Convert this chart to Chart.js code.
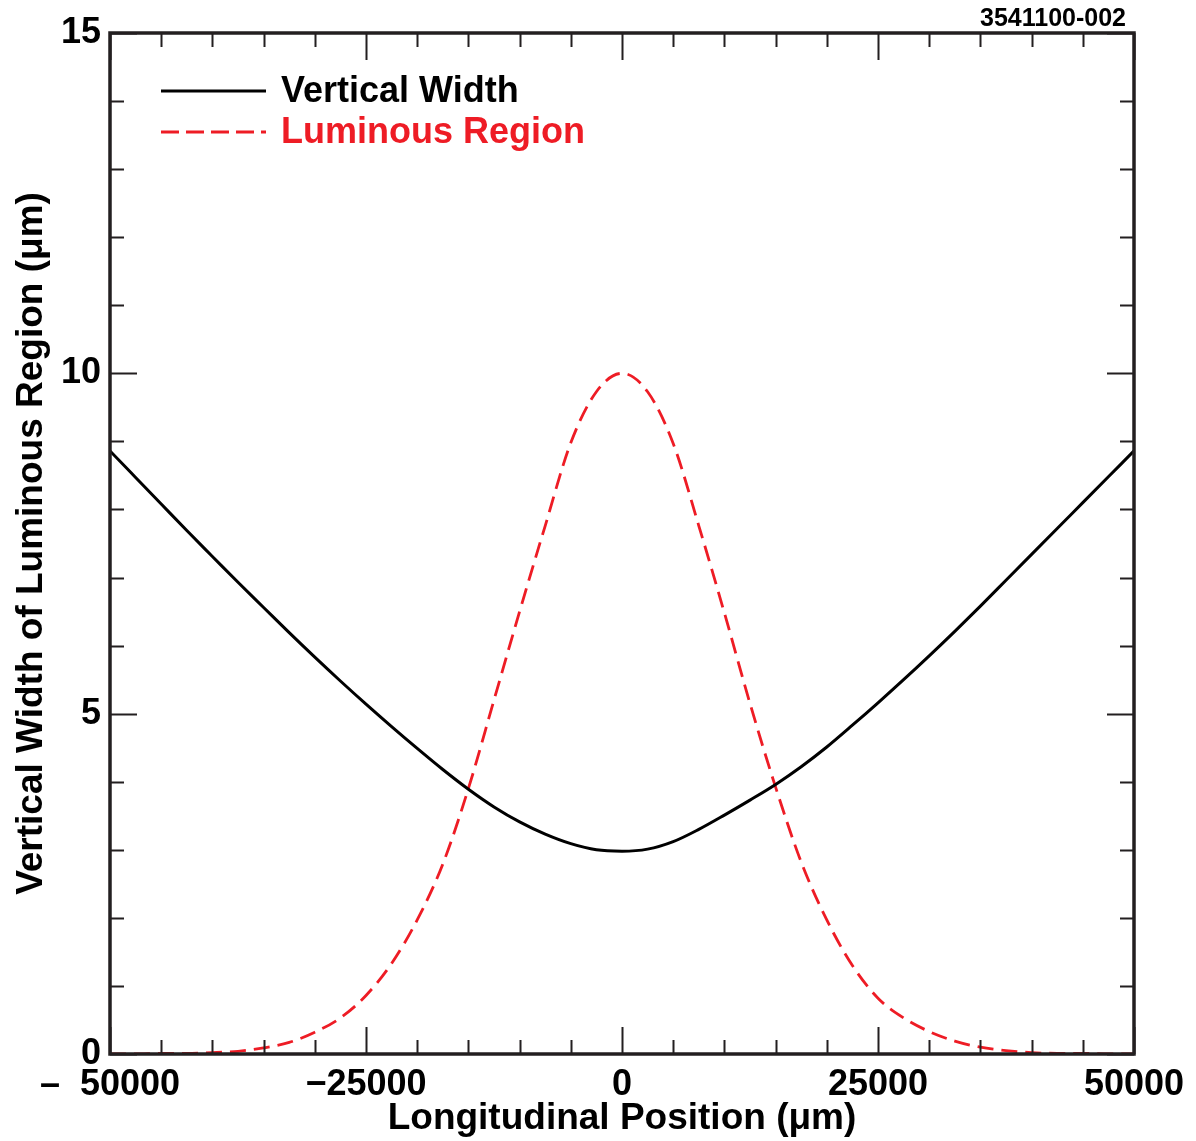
<!DOCTYPE html>
<html>
<head>
<meta charset="utf-8">
<script src="https://cdn.jsdelivr.net/npm/chart.js@4.4.1/dist/chart.umd.min.js"></script>
<style>
  html, body { margin: 0; padding: 0; background: #fff; }
  #wrap { width: 1196px; height: 1141px; }
</style>
</head>
<body>
<div id="wrap"><canvas id="grafico" width="1196" height="1141"></canvas></div>
<script>
// posiciones longitudinales (um)
const posiciones = [
  -50000, -47500, -45000, -42500, -40000, -37500, -35000, -32500, -30000, -27500,
  -25000, -22500, -20000, -17500, -15000, -12500, -10000, -7500, -5000, -2500,
  0, 2500, 5000, 7500, 10000, 12500, 15000, 17500, 20000, 22500,
  25000, 27500, 30000, 32500, 35000, 37500, 40000, 42500, 45000, 47500, 50000
];
const anchoVertical = [
  8.86, 8.47, 8.08, 7.69, 7.31, 6.93, 6.56, 6.19, 5.83, 5.48,
  5.14, 4.81, 4.49, 4.18, 3.89, 3.63, 3.41, 3.23, 3.09, 3.00,
  2.98, 3.01, 3.12, 3.30, 3.51, 3.73, 3.96, 4.22, 4.51, 4.83,
  5.16, 5.50, 5.85, 6.21, 6.58, 6.96, 7.34, 7.72, 8.10, 8.48, 8.86
];
const regionLuminosa = [
  0.00, 0.00, 0.01, 0.01, 0.02, 0.04, 0.09, 0.17, 0.32, 0.53,
  0.86, 1.33, 1.97, 2.79, 3.90, 5.20, 6.50, 7.76, 8.98, 9.73,
  10.00, 9.73, 8.97, 7.76, 6.48, 5.15, 3.92, 2.82, 1.97, 1.30,
  0.82, 0.53, 0.33, 0.19, 0.10, 0.05, 0.02, 0.01, 0.01, 0.00, 0.00
];
const xTicksMayores = [-50000, -25000, 0, 25000, 50000];
const xTickLabels = ['\u2013  50000', '\u221225000', '0', '25000', '50000'];
const yTicksMayores = [0, 5, 10, 15];
const xMenor = 5000;
const yMenor = 1;
const etiquetaFigura = '3541100-002';

const FUENTE = '"Liberation Sans", Arial, sans-serif';
const ROJO = '#ee1c25';

const puntos = (ys) => posiciones.map((x, i) => ({ x, y: ys[i] }));

// marco + ticks hacia adentro en los cuatro lados
const marcoTicks = {
  id: 'marcoTicks',
  afterDraw(chart) {
    const { ctx, chartArea: a, scales } = chart;
    const sx = scales.x, sy = scales.y;
    ctx.save();
    ctx.strokeStyle = '#231f20';
    ctx.lineWidth = 2;
    ctx.beginPath();
    for (let v = sx.min; v <= sx.max; v += xMenor) {
      const px = Math.round(sx.getPixelForValue(v)) + 0.5;
      const len = v % 25000 === 0 ? 27 : 14;
      ctx.moveTo(px, a.bottom); ctx.lineTo(px, a.bottom - len);
      ctx.moveTo(px, a.top); ctx.lineTo(px, a.top + len);
    }
    for (let v = sy.min; v <= sy.max; v += yMenor) {
      const py = Math.round(sy.getPixelForValue(v)) + 0.5;
      const len = v % 5 === 0 ? 27 : 14;
      ctx.moveTo(a.left, py); ctx.lineTo(a.left + len, py);
      ctx.moveTo(a.right, py); ctx.lineTo(a.right - len, py);
    }
    ctx.stroke();
    ctx.lineWidth = 3.5;
    ctx.strokeRect(a.left, a.top, a.right - a.left, a.bottom - a.top);

    // leyenda
    ctx.font = 'bold 36px ' + FUENTE;
    ctx.textBaseline = 'middle';
    chart.data.datasets.forEach((ds, i) => {
      const y = 91 + i * 41;
      ctx.strokeStyle = ds.borderColor;
      ctx.lineWidth = ds.borderWidth;
      ctx.setLineDash(ds.borderDash ? [18, 7] : []);
      ctx.beginPath();
      ctx.moveTo(161, y); ctx.lineTo(266, y);
      ctx.stroke();
      ctx.setLineDash([]);
      ctx.fillStyle = ds.borderColor;
      ctx.fillText(ds.label, 281, y + 1);
    });

    ctx.fillStyle = '#000';
    ctx.font = 'bold 25px ' + FUENTE;
    ctx.textAlign = 'right';
    ctx.textBaseline = 'alphabetic';
    ctx.fillText(etiquetaFigura, 1126, 26);
    ctx.restore();
  }
};

new Chart(document.getElementById('grafico').getContext('2d'), {
  type: 'line',
  data: {
    datasets: [
      {
        label: 'Vertical Width',
        data: puntos(anchoVertical),
        borderColor: '#000000',
        borderWidth: 3,
        pointRadius: 0,
        cubicInterpolationMode: 'monotone'
      },
      {
        label: 'Luminous Region',
        data: puntos(regionLuminosa),
        borderColor: ROJO,
        borderWidth: 2.8,
        borderDash: [16, 8],
        pointRadius: 0,
        cubicInterpolationMode: 'monotone'
      }
    ]
  },
  options: {
    responsive: false,
    animation: false,
    layout: { padding: { top: 33, right: 62, left: 0, bottom: 0 } },
    plugins: { legend: { display: false }, tooltip: { enabled: false } },
    scales: {
      x: {
        type: 'linear',
        min: -50000,
        max: 50000,
        afterFit: (s) => { s.height = 87; },
        afterBuildTicks: (s) => { s.ticks = xTicksMayores.map((v) => ({ value: v })); },
        grid: { display: false, drawTicks: false },
        border: { display: false },
        ticks: {
          color: '#000',
          padding: 9,
          maxRotation: 0,
          font: { family: FUENTE, size: 36, weight: 'bold' },
          callback: (v) => xTickLabels[xTicksMayores.indexOf(v)]
        },
        title: {
          display: true,
          text: 'Longitudinal Position (\u03bcm)',
          color: '#000',
          padding: { top: 0, bottom: 0 },
          font: { family: FUENTE, size: 37, weight: 'bold' }
        }
      },
      y: {
        type: 'linear',
        min: 0,
        max: 15,
        afterFit: (s) => { s.width = 110; },
        afterBuildTicks: (s) => { s.ticks = yTicksMayores.map((v) => ({ value: v })); },
        grid: { display: false, drawTicks: false },
        border: { display: false },
        ticks: {
          color: '#000',
          padding: 9,
          font: { family: FUENTE, size: 36, weight: 'bold' }
        },
        title: {
          display: true,
          text: 'Vertical Width of Luminous Region (\u03bcm)',
          color: '#000',
          padding: { top: 10, bottom: 0 },
          font: { family: FUENTE, size: 37, weight: 'bold' }
        }
      }
    }
  },
  plugins: [marcoTicks]
});
</script>
</body>
</html>
